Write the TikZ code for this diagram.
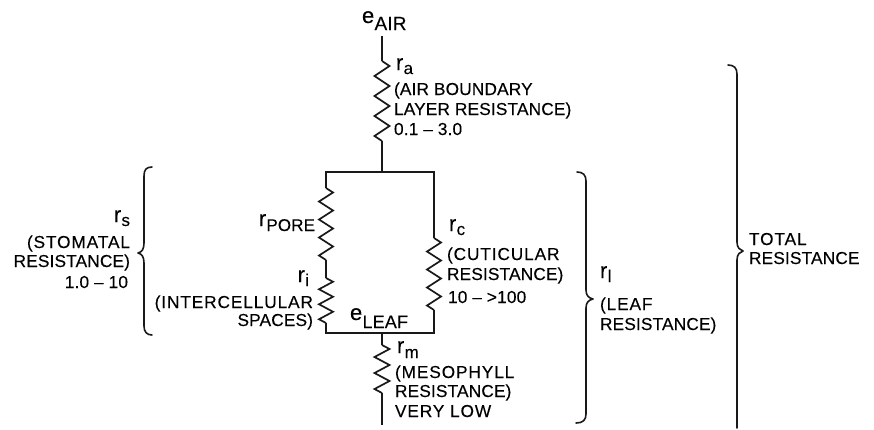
\documentclass[tikz,border=0pt]{standalone}
\usepackage{fontspec}
\setmainfont{Liberation Sans}
\newfontfamily\lblfont[LetterSpace=0.8,FakeBold=0.15]{Liberation Sans}
\newfontfamily\widefont[LetterSpace=5,FakeBold=0.15]{Liberation Sans}
\usetikzlibrary{decorations.pathmorphing}
\newcommand{\bigletter}[1]{{\fontsize{22}{22}\selectfont #1}}
\newcommand{\subr}[3][17]{\kern0.3pt\raisebox{-#2pt}{\fontsize{#1}{#1}\lblfont\selectfont #3}}
\tikzset{
  x=1pt,y=-1pt,
  wire/.style={line width=2.2pt,line join=miter,line cap=butt,black!90},
  res/.style n args={2}{line width=1.7pt,black!90,decorate,decoration={zigzag,segment length=#1,amplitude=#2}},
  brace/.style={line width=1.6pt,black!90,line cap=round,line join=round},
  lbl/.style={inner sep=0pt,outer sep=0pt,font=\fontsize{17.3}{18}\lblfont\selectfont},
  wlbl/.style={inner sep=0pt,outer sep=0pt,font=\fontsize{17.3}{18}\widefont\selectfont},
  lw/.style={lbl,anchor=base west},
  le/.style={lbl,anchor=base east},
  wlw/.style={wlbl,anchor=base west},
  wle/.style={wlbl,anchor=base east},
}
\begin{document}
\begin{tikzpicture}
\useasboundingbox (0,0) rectangle (874,429);
% junctions
\coordinate (top) at (382,36);
\coordinate (a1) at (382,61);
\coordinate (a2) at (382,141);
\coordinate (tj) at (382,172);
\coordinate (tl) at (326,172);
\coordinate (tr) at (434,172);
\coordinate (bl) at (326,333);
\coordinate (br) at (434,333);
\coordinate (bj) at (382,333);
\coordinate (p1) at (326,188);
\coordinate (p2) at (326,260);
\coordinate (i1) at (326,278);
\coordinate (i2) at (326,323);
\coordinate (c1) at (434,238);
\coordinate (c2) at (434,310);
\coordinate (m1) at (382,345);
\coordinate (m2) at (382,393);
\coordinate (bot) at (382,425);
% wires
\draw[wire] (top) -- (a1);
\draw[wire] (a2) -- (tj);
\draw[wire] (p1) -- (tl) -- (tr) -- (c1);
\draw[wire] (p2) -- (i1);
\draw[wire] (i2) -- (bl) -- (br) -- (c2);
\draw[wire] (bj) -- (m1);
\draw[wire] (m2) -- (bot);
% resistors
\draw[res={20}{7.5}] (a1) -- (a2);
\draw[res={18}{7}] (p1) -- (p2);
\draw[res={15}{7}] (i1) -- (i2);
\draw[res={18}{7}] (c1) -- (c2);
\draw[res={16}{7.5}] (m1) -- (m2);
% braces
\draw[brace] (152,167) .. controls (146,167) and (144,170) .. (144,176) -- (144,243) .. controls (144,249) and (142,252) .. (138,253) .. controls (142,254) and (144,257) .. (144,263) -- (144,326) .. controls (144,332) and (147,335) .. (152,335);
\draw[brace] (577,172) .. controls (583,172) and (586,175) .. (586,181) -- (586,290) .. controls (586,296) and (589,298) .. (593,299) .. controls (589,300) and (586,302) .. (586,308) -- (586,414) .. controls (586,420) and (583,423) .. (576,423);
\draw[brace] (728,65) .. controls (734,65) and (737,68) .. (737,74) -- (737,242) .. controls (737,248) and (740,250) .. (743,251) .. controls (740,252) and (737,254) .. (737,260) -- (737,428);
% labels
\node[lw] (eair) at (362,23) {\bigletter{e}\subr[19]{7}{AIR}};
\node[lw] (ra) at (396,70) {\bigletter{r}\subr{4}{a}};
\node[lw] (ra1) at (394,95) {(AIR BOUNDARY};
\node[lw] (ra2) at (394,115) {LAYER RESISTANCE)};
\node[lw] (ra3) at (394,135) {0.1 – 3.0};
\node[le] (rpore) at (315,226) {\bigletter{r}\subr{5}{PORE}};
\node[le] (ri) at (309,282) {\bigletter{r}\subr{4}{i}};
\node[wle] (ri1) at (313,308) {(INTERCELLULAR};
\node[le] (ri2) at (313,326) {SPACES)};
\node[lw] (eleaf) at (350,320) {\bigletter{e}\subr[18]{8}{LEAF}};
\node[lw] (rc) at (449,231) {\bigletter{r}\subr{4}{c}};
\node[wlw] (rc1) at (447,260) {(CUTICULAR};
\node[lw] (rc2) at (447,280) {RESISTANCE)};
\node[lw] (rc3) at (448,303) {10 – >100};
\node[lw] (rm) at (397,353) {\bigletter{r}\subr{5}{m}};
\node[wlw] (rm1) at (395,378) {(MESOPHYLL};
\node[lw] (rm2) at (395,397) {RESISTANCE)};
\node[wlw] (rm3) at (395,417) {VERY LOW};
\node[le] (rs) at (130,222) {\bigletter{r}\subr{4}{s}};
\node[wle] (rs1) at (130,248) {(STOMATAL};
\node[le] (rs2) at (130,267) {RESISTANCE)};
\node[le] (rs3) at (128,288) {1.0 – 10};
\node[lw] (rl) at (600,278) {\bigletter{r}\subr{4}{l}};
\node[wlw] (rl1) at (600,310) {(LEAF};
\node[lw] (rl2) at (600,330) {RESISTANCE)};
\node[wlw] (tot1) at (749,245) {TOTAL};
\node[lw] (tot2) at (749,264) {RESISTANCE};
\end{tikzpicture}
\end{document}
